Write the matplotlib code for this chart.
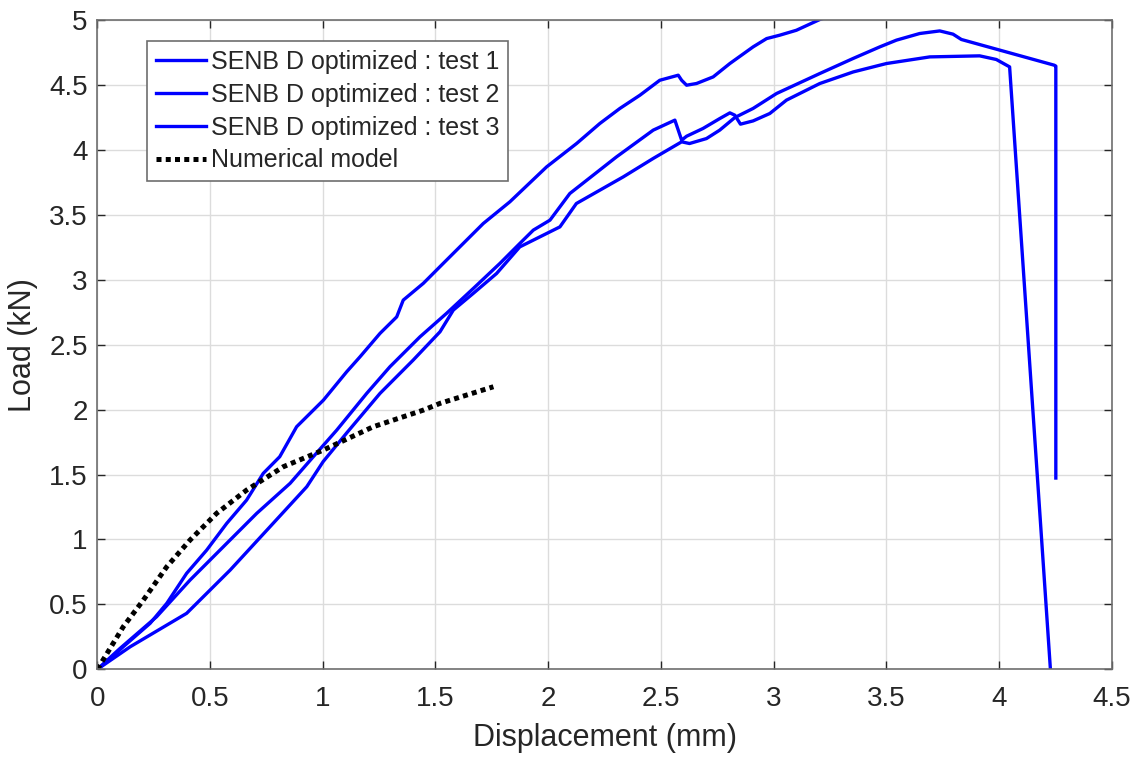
import numpy as np
import matplotlib
matplotlib.use("Agg")
import matplotlib.pyplot as plt
from matplotlib.ticker import FormatStrFormatter

plt.rcParams['font.family'] = ['Liberation Sans', 'DejaVu Sans']

# test 1 (top curve, leaves the frame at 5 kN)
x1 = [0, 0.05, 0.115, 0.234, 0.308, 0.396, 0.485, 0.574, 0.662, 0.736, 0.809, 0.884,
      1.003, 1.106, 1.165, 1.254, 1.328, 1.357, 1.446, 1.534, 1.623, 1.712, 1.830,
      1.993, 2.126, 2.229, 2.318, 2.407, 2.495, 2.577, 2.592, 2.614, 2.658, 2.732,
      2.806, 2.909, 2.969, 3.027, 3.101, 3.205, 3.30]
y1 = [0, 0.07, 0.174, 0.354, 0.508, 0.739, 0.918, 1.124, 1.303, 1.509, 1.637, 1.868,
      2.073, 2.291, 2.406, 2.587, 2.714, 2.843, 2.972, 3.125, 3.279, 3.433, 3.600,
      3.869, 4.049, 4.203, 4.319, 4.421, 4.536, 4.575, 4.536, 4.498, 4.511, 4.562,
      4.665, 4.793, 4.857, 4.883, 4.921, 5.004, 5.06]

# test 2 (peak ~4.9 kN, vertical drop at the end)
x2 = [0, 0.146, 0.396, 0.589, 0.766, 0.929, 1.002, 1.106, 1.254, 1.401, 1.520, 1.579,
      1.667, 1.771, 1.874, 2.052, 2.125, 2.333, 2.466, 2.592, 2.627, 2.702, 2.761,
      2.828, 2.909, 3.013, 3.205, 3.353, 3.471, 3.545, 3.648, 3.737, 3.796, 3.833,
      4.245, 4.252, 4.252]
y2 = [0, 0.174, 0.431, 0.764, 1.098, 1.406, 1.600, 1.820, 2.125, 2.381, 2.599, 2.766,
      2.894, 3.048, 3.253, 3.407, 3.587, 3.792, 3.934, 4.062, 4.049, 4.087, 4.152,
      4.249, 4.319, 4.434, 4.588, 4.704, 4.793, 4.845, 4.896, 4.916, 4.891, 4.850,
      4.652, 4.645, 1.473]

# test 3 (two load drops, peak ~4.7 kN, falls to zero)
x3 = [0, 0.1, 0.263, 0.411, 0.559, 0.707, 0.855, 0.958, 1.062, 1.195, 1.298, 1.431,
      1.549, 1.668, 1.786, 1.874, 1.934, 2.008, 2.096, 2.303, 2.466, 2.562, 2.592,
      2.614, 2.687, 2.761, 2.806, 2.828, 2.853, 2.909, 2.983, 3.057, 3.205, 3.353,
      3.471, 3.501, 3.693, 3.914, 3.988, 4.047, 4.228]
y3 = [0, 0.16, 0.405, 0.687, 0.944, 1.201, 1.432, 1.637, 1.842, 2.125, 2.330, 2.560,
      2.741, 2.933, 3.126, 3.279, 3.382, 3.459, 3.664, 3.946, 4.152, 4.229, 4.075,
      4.105, 4.165, 4.241, 4.285, 4.267, 4.198, 4.223, 4.280, 4.383, 4.511, 4.600,
      4.652, 4.665, 4.716, 4.724, 4.696, 4.639, 0]

# numerical model
xm = [0, 0.115, 0.204, 0.308, 0.411, 0.529, 0.662, 0.825, 1.002, 1.224, 1.446, 1.520, 1.757]
ym = [0, 0.328, 0.533, 0.790, 0.995, 1.201, 1.380, 1.560, 1.688, 1.868, 1.996, 2.048, 2.176]

labels = ['SENB D optimized : test 1', 'SENB D optimized : test 2',
          'SENB D optimized : test 3', 'Numerical model']

fig = plt.figure(figsize=(11.4, 7.58), dpi=100)
ax = fig.add_axes([0.0854, 0.117, 0.8898, 0.8566])

for xs, ys, lab in zip([x1, x2, x3], [y1, y2, y3], labels[:3]):
    ax.plot(xs, ys, color=(0, 0, 1), lw=2.4, label=lab, solid_joinstyle='round')
ax.plot(xm, ym, color='k', lw=3.6, linestyle=(0, (1, 0.85)), dash_capstyle='butt',
        label=labels[3])

ax.set_xlim(0, 4.5)
ax.set_ylim(0, 5)
ax.set_xticks(np.arange(0, 4.51, 0.5))
ax.set_yticks(np.arange(0, 5.01, 0.5))
ax.xaxis.set_major_formatter(FormatStrFormatter('%g'))
ax.yaxis.set_major_formatter(FormatStrFormatter('%g'))
ax.grid(True, color='#dcdcdc', lw=1)
ax.set_axisbelow(True)
ax.tick_params(direction='in', length=6, width=1, colors='#262626', labelsize=20,
               top=True, right=True)
ax.tick_params(axis='x', pad=12)
ax.tick_params(axis='y', pad=7)
for s in ax.spines.values():
    s.set_color('#6e6e6e')
    s.set_linewidth(1.2)

ax.set_xlabel('Displacement (mm)', fontsize=22, color='#262626', labelpad=8)
ax.set_ylabel('Load (kN)', fontsize=22, color='#262626', labelpad=8)

leg = ax.legend(loc='upper left', bbox_to_anchor=(0.049, 0.967), borderaxespad=0,
                fontsize=18, fancybox=False, framealpha=1, edgecolor='#6e6e6e',
                handlelength=2.0, handletextpad=0.2, borderpad=0.35, labelspacing=0.35)
leg.get_frame().set_linewidth(1.2)
for t in leg.get_texts():
    t.set_color('#262626')

fig.savefig('out.png', dpi=100, facecolor='white')
